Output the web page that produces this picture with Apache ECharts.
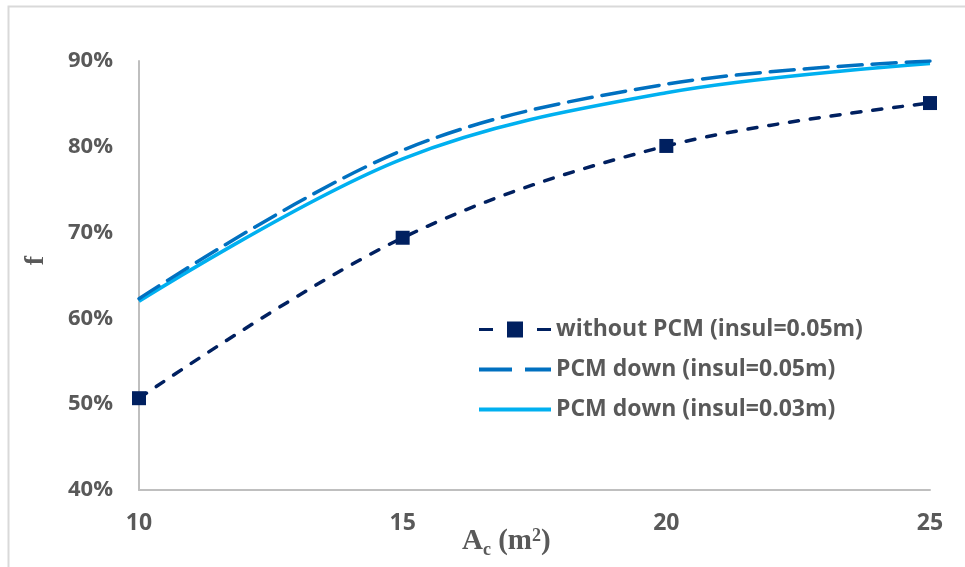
<html>
  <head>
    <meta charset="utf-8">
    <title>f vs Ac</title>
    <script src="https://cdn.jsdelivr.net/npm/echarts@6/dist/echarts.min.js"></script>
    <style>
      html, body { margin: 0; padding: 0; background: #fff; }
      #chart { width: 965px; height: 567px; }
    </style>
  </head>
  <body>
    <div id="chart"></div>
    <script>
      // collector area (m2)
      var areas = [10, 15, 20, 25]
      // solar fraction f (%)
      var withoutPcm05 = [50.7, 69.4, 80.1, 85.1]
      var pcmDown05 = [62.3, 79.6, 87.3, 90.0]
      var pcmDown03 = [62.0, 78.6, 86.3, 89.7]
      var yTicks = [40, 50, 60, 70, 80, 90]

      var names = [
        'without PCM (insul=0.05m)',
        'PCM down (insul=0.05m)',
        'PCM down (insul=0.03m)'
      ]

      // legend icons drawn like the excel ones (box 72 x 16)
      var icons = [
        'path://M0,0M72,16M0,6.5H14V9.5H0ZM28,0H44V16H28ZM58,6.5H72V9.5H58Z',
        'path://M0,0M72,16M0,6H33V10H0ZM46,6H72V10H46Z',
        'path://M0,0M72,16M0,6H72V10H0Z'
      ]

      function pairs(vals) {
        return areas.map(function (a, i) { return [a, vals[i]] })
      }

      var myChart = echarts.init(document.getElementById('chart'))

      myChart.setOption({
        animation: false,
        grid: { left: 139, right: 35, top: 61, bottom: 77 },
        legend: {
          orient: 'vertical',
          left: 479,
          top: 318,
          padding: 0,
          itemWidth: 72,
          itemHeight: 16,
          itemGap: 17,
          data: names.map(function (n, i) { return { name: n, icon: icons[i] } }),
          textStyle: {
            fontFamily: 'Open Sans',
            fontWeight: 'bold',
            fontSize: 23,
            color: '#595959'
          }
        },
        xAxis: {
          type: 'value',
          min: 10,
          max: 25,
          interval: 5,
          splitLine: { show: false },
          axisTick: { show: false },
          axisLine: { lineStyle: { color: '#bfbfbf', width: 2 } },
          axisLabel: {
            margin: 22,
            fontFamily: 'Open Sans',
            fontWeight: 'bold',
            fontSize: 23,
            color: '#595959'
          }
        },
        yAxis: {
          type: 'value',
          min: yTicks[0],
          max: yTicks[yTicks.length - 1],
          interval: 10,
          splitLine: { show: false },
          axisTick: { show: false },
          axisLine: { show: true, lineStyle: { color: '#bfbfbf', width: 2 } },
          axisLabel: {
            margin: 26,
            formatter: '{value}%',
            fontFamily: 'Open Sans',
            fontWeight: 'bold',
            fontSize: 22,
            color: '#595959'
          }
        },
        graphic: [
          // chart border
          {
            type: 'rect',
            shape: { x: 8.5, y: 6.5, width: 1000, height: 1000 },
            style: { fill: 'none', stroke: '#d9d9d9', lineWidth: 2 },
            silent: true
          },
          {
            type: 'text',
            left: 22,
            top: 256,
            rotation: Math.PI / 2,
            style: {
              text: 'f',
              font: 'bold 28px "Liberation Serif", "DejaVu Serif", serif',
              fill: '#595959'
            }
          },
          {
            type: 'text',
            left: 462,
            top: 527,
            style: {
              text: 'A{sub|c} (m{sup|2})',
              font: 'bold 29px "Liberation Serif", serif',
              fill: '#595959',
              rich: {
                sub: { fontFamily: 'Liberation Serif', fontWeight: 'bold', fontSize: 18, fill: '#595959', padding: [16, 0, 0, 0] },
                sup: { fontFamily: 'Liberation Serif', fontWeight: 'bold', fontSize: 18, fill: '#595959', padding: [0, 0, 12, 0] }
              }
            }
          }
        ],
        series: [
          {
            name: names[0],
            type: 'line',
            smooth: 0.35,
            data: pairs(withoutPcm05),
            symbol: 'rect',
            symbolSize: 14,
            itemStyle: { color: '#002060' },
            lineStyle: { color: '#002060', width: 3.5, type: [9, 12], cap: 'round' },
            z: 3
          },
          {
            name: names[1],
            type: 'line',
            smooth: 0.35,
            data: pairs(pcmDown05),
            symbol: 'none',
            itemStyle: { color: '#0070c0' },
            lineStyle: { color: '#0070c0', width: 3.5, type: [24, 10], cap: 'round' },
            z: 2
          },
          {
            name: names[2],
            type: 'line',
            smooth: 0.35,
            data: pairs(pcmDown03),
            symbol: 'none',
            itemStyle: { color: '#00b0f0' },
            lineStyle: { color: '#00b0f0', width: 3.5 },
            z: 1
          }
        ]
      })
    </script>
  </body>
</html>
